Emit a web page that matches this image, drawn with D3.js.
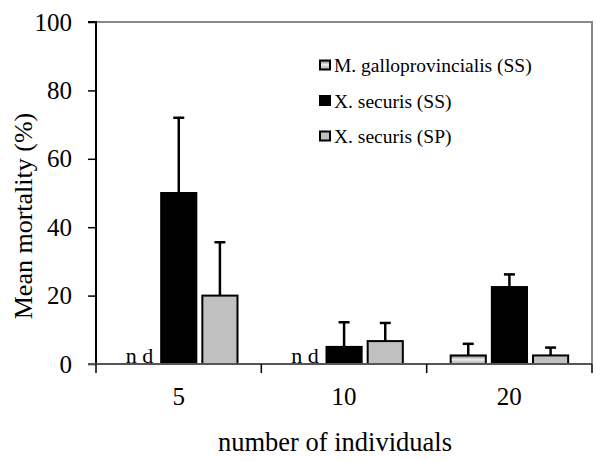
<!DOCTYPE html>
<html><head><meta charset="utf-8">
<script src="https://cdn.jsdelivr.net/npm/d3@7"></script>
</head><body style="margin:0">
<svg id="c" width="597" height="461"></svg>
<script>
const categories = ["5", "10", "20"];
const seriesNames = ["M. galloprovincialis (SS)", "X. securis (SS)", "X. securis (SP)"];
const galloMean = [null, null, 2.5];
const galloErr = [null, null, 3.4];
const securisSSMean = [50, 5, 22.5];
const securisSSErr = [22, 7.2, 3.7];
const securisSPMean = [20, 6.7, 2.5];
const securisSPErr = [15.6, 5.3, 2.3];
const yTicks = [0, 20, 40, 60, 80, 100];

const FONT = "'Liberation Serif'";
const means = [galloMean, securisSSMean, securisSPMean];
const errs = [galloErr, securisSSErr, securisSPErr];

const svg = d3.select("#c");
const defs = svg.append("defs");
const g1 = defs.append("linearGradient").attr("id","gallo").attr("x1",0).attr("y1",0).attr("x2",0).attr("y2",1);
g1.append("stop").attr("offset","0%").attr("stop-color","#777");
g1.append("stop").attr("offset","45%").attr("stop-color","#ececec");
g1.append("stop").attr("offset","100%").attr("stop-color","#aaa");

const fills = ["url(#gallo)", "#000", "#c0c0c0"];
const L = 96, R = 592, T = 22, B = 364;
const x = d3.scaleBand().domain(categories).range([L, R]).padding(0);
const xs = d3.scaleBand().domain(seriesNames).range([24, 141.5]).paddingInner(0.146).paddingOuter(0);
const y = d3.scaleLinear().domain([0, 100]).range([B, T]);

function txt(sel, size) { return sel.style("font-family", FONT).attr("font-size", size).attr("fill", "#000"); }

// frame top/right
svg.append("path").attr("d", `M${L},${T}H${R}V${B}`).attr("fill","none").attr("stroke","#888").attr("stroke-width",2);

// y axis
const ya = svg.append("g").attr("transform",`translate(${L},0)`).call(d3.axisLeft(y).tickValues(yTicks).tickSize(8).tickPadding(16));
ya.attr("font-family", null).attr("font-size", null);
ya.select(".domain").attr("stroke","#000").attr("stroke-width",2).attr("d",`M-8,${T}H0V${B}H-8`);
ya.selectAll(".tick line").attr("stroke","#000").attr("stroke-width",1.5);
txt(ya.selectAll("text"), 25);

// bars
categories.forEach((c, ci) => {
  seriesNames.forEach((s, si) => {
    const v = means[si][ci];
    const bx = x(c) + xs(s), bw = xs.bandwidth();
    if (v == null) {
      txt(svg.append("text").attr("x", bx + bw/2 + 2).attr("y", B - 1).attr("text-anchor","middle"), 22).text("n d");
      return;
    }
    const e = errs[si][ci];
    const cx = bx + bw/2;
    svg.append("line").attr("x1",cx).attr("x2",cx).attr("y1",y(v)).attr("y2",y(v+e)).attr("stroke","#000").attr("stroke-width",2.5);
    svg.append("line").attr("x1",cx-5.5).attr("x2",cx+5.5).attr("y1",y(v+e)).attr("y2",y(v+e)).attr("stroke","#000").attr("stroke-width",2.5);
    svg.append("rect").attr("x",bx).attr("y",y(v)).attr("width",bw).attr("height",B - y(v))
      .attr("fill",fills[si]).attr("stroke","#000").attr("stroke-width",2);
  });
});

// x axis
const xa = svg.append("g").attr("transform",`translate(0,${B})`).call(d3.axisBottom(x).tickSize(0).tickPadding(23));
xa.attr("font-family", null).attr("font-size", null);
xa.select(".domain").remove();
svg.append("line").attr("x1",L-8).attr("x2",R).attr("y1",B).attr("y2",B).attr("stroke","#555").attr("stroke-width",2);
[L, x("10"), x("20"), R].forEach(t => svg.append("line").attr("x1",t).attr("x2",t).attr("y1",B).attr("y2",B+9).attr("stroke","#000").attr("stroke-width",1.5));
txt(xa.selectAll("text"), 25);

// axis titles
txt(svg.append("text").attr("x",335).attr("y",451).attr("text-anchor","middle"), 26.5).text("number of individuals");
txt(svg.append("text").attr("transform","translate(32,216) rotate(-90)").attr("text-anchor","middle"), 26).text("Mean mortality (%)");

// legend
const lg = svg.append("g");
const legendRows = [65, 100.5, 136];
seriesNames.forEach((s, i) => {
  const yy = legendRows[i];
  lg.append("rect").attr("x",320).attr("y",yy-4.5).attr("width",10).attr("height",9)
    .attr("fill",fills[i]).attr("stroke","#000").attr("stroke-width",2);
  txt(lg.append("text").attr("x",334).attr("y",yy+7), 19.5).text(s);
});
</script>
</body></html>
